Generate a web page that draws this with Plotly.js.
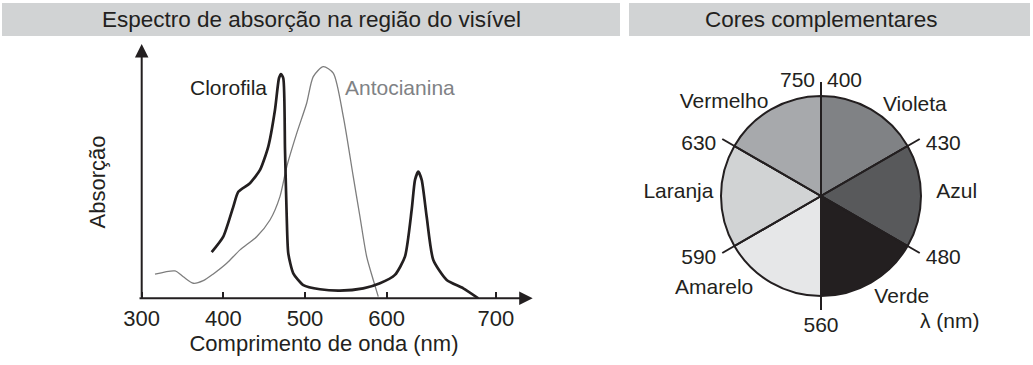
<!DOCTYPE html>
<html>
<head>
<meta charset="utf-8">
<script src="https://cdn.plot.ly/plotly-3.0.1.min.js"></script>
<style>html,body{margin:0;padding:0;background:#fff;}#chart{width:1033px;height:365px;}</style>
</head>
<body>
<div id="chart"></div>
<script>
// ---------- Data: absorption spectra (x in nm as drawn, y = relative absorption) ----------
var chlorophyllNm  = [385.7,399.9,412.2,418.3,432.6,444.9,455.0,463.2,468.1,470.6,473.4,475.5,477.6,479.5,485.6,497.9,518.3,542.8,571.3,591.8,610.1,622.4,630.6,634.7,638.7,642.9,649.0,657.1,673.5,693.8,712.2];
var chlorophyllAbs = [19.9,26.6,39.6,46.0,49.7,55.4,65.5,81.3,95.0,96.8,95.0,64.0,35.2,19.4,10.8,5.7,3.9,3.3,4.3,6.5,10.1,18.0,38.1,51.1,54.7,51.1,35.2,16.5,7.9,4.3,0];
var anthocyaninNm  = [316.3,340.8,350.9,363.2,375.4,387.7,404.1,420.4,440.8,457.1,469.3,477.6,489.8,502.0,510.1,522.4,534.6,546.9,559.1,567.3,575.5,583.6,589.7];
var anthocyaninAbs = [10.4,11.8,9.3,6.5,7.6,10.5,15.1,20.9,26.6,33.8,43.9,56.8,71.2,84.2,95.7,100,97.2,78.4,52.5,35.2,18.0,7.9,0.7];

// x tick labels and the positions where the figure draws them
var xTickLabels = ['300','400','500','600','700'];
var xTickVals   = [300, 400, 500, 600, 733.8];

// ---------- Data: complementary colours wheel ----------
var colourNames    = ['Violeta','Azul','Verde','Amarelo','Laranja','Vermelho'];
var sliceShares    = [1,1,1,1,1,1];
var sliceColours   = ['#808285','#58595b','#231f20','#e6e7e8','#d1d3d4','#a7a9ac'];
var boundaryLabels = ['400','430','480','560','590','630','750'];

// ---------- Geometry / style (not data) ----------
var INK = '#231f20';
var FONT = 'Liberation Sans, Arial, sans-serif';
var W = 1033, H = 365;
function px(x){return x/W;}
function py(y){return 1 - y/H;}

var nSlices = sliceShares.length;
var total = sliceShares.reduce(function(a,b){return a+b;},0);
var sliceTheta = [], sliceWidth = [], boundTheta = [];
var acc = 0;
for (var i=0;i<nSlices;i++){
  var w = sliceShares[i]/total*360;
  boundTheta.push(acc);
  sliceTheta.push(acc + w/2);
  sliceWidth.push(w);
  acc += w;
}
boundTheta.push(360);

var PXR = 100;          // pixels per radial unit
var lineR = 1.14;       // boundary lines run a little past the rim
var boundLineR = [], boundLineT = [];
for (var j=0;j<nSlices/2;j++){
  boundLineR.push(lineR, 0, lineR, null);
  boundLineT.push(boundTheta[j], boundTheta[j], boundTheta[j]+180, null);
}
// label anchors: the end of each boundary line, nudged down a few px for the side labels
var boundShiftPx = [0,6,6,0,6,6,0];
var boundTextPos = ['middle right','middle right','middle right','bottom center','middle left','middle left','middle left'];
var boundLabR = [], boundLabT = [];
boundTheta.forEach(function(t,k){
  var a = t*Math.PI/180;
  var x = lineR*PXR*Math.sin(a), y = -lineR*PXR*Math.cos(a) + boundShiftPx[k];
  boundLabR.push(Math.sqrt(x*x+y*y)/PXR);
  boundLabT.push(Math.atan2(x,-y)*180/Math.PI);
});
var nameR     = [1.30, 1.357, 1.301, 1.416, 1.426, 1.346];
var nameTheta = [46.2, 88.7, 141.6, 229.0, 271.2, 313.9];

var traces = [
  {type:'scatter', x: anthocyaninNm, y: anthocyaninAbs, mode:'lines', xaxis:'x', yaxis:'y',
   line:{color:'#7d7d7d', width:1.3, shape:'spline', smoothing:0.7}, cliponaxis:false, hoverinfo:'skip'},
  {type:'scatter', x: chlorophyllNm, y: chlorophyllAbs, mode:'lines', xaxis:'x', yaxis:'y',
   line:{color:INK, width:2.7, shape:'spline', smoothing:0.6}, cliponaxis:false, hoverinfo:'skip'},
  {type:'barpolar', r: sliceShares.map(function(){return 1;}), theta: sliceTheta, width: sliceWidth,
   marker:{color: sliceColours, line:{color:INK, width:2}}, subplot:'polar', hoverinfo:'skip'},
  {type:'scatterpolar', r: boundLineR, theta: boundLineT, mode:'lines', subplot:'polar',
   line:{color:INK, width:2}, connectgaps:false, hoverinfo:'skip'},
  {type:'scatterpolar', r: boundLabR, theta: boundLabT,
   mode:'markers+text', marker:{size:8, color:'rgba(0,0,0,0)'},
   text: boundaryLabels, textposition: boundTextPos, subplot:'polar', cliponaxis:false,
   textfont:{family:FONT, size:21, color:INK}, hoverinfo:'skip'},
  {type:'scatterpolar', r: nameR, theta: nameTheta,
   mode:'text', text: colourNames, textposition:'middle center', subplot:'polar', cliponaxis:false,
   textfont:{family:FONT, size:21, color:INK}, hoverinfo:'skip'}
];

var layout = {
  width: W, height: H,
  margin:{l:0,r:0,t:0,b:0},
  paper_bgcolor:'#ffffff', plot_bgcolor:'rgba(0,0,0,0)',
  showlegend:false,
  font:{family:FONT, color:INK},
  xaxis:{
    domain:[px(115), px(533)], range:[267.3, 779.2], anchor:'y',
    showgrid:false, zeroline:false, showline:false,
    tickmode:'array', tickvals: xTickVals, ticktext: xTickLabels,
    ticks:'inside', ticklen:6, tickwidth:2, tickcolor:INK, ticklabelstandoff:5,
    tickfont:{family:FONT, size:22, color:INK},
    title:{text:'Comprimento de onda (nm)', font:{family:FONT, size:22, color:INK}, standoff:4}
  },
  xaxis2:{
    overlaying:'x', matches:'x', anchor:'y', side:'bottom',
    showgrid:false, zeroline:false, showline:false, showticklabels:false,
    tickmode:'array', tickvals: xTickVals,
    ticks:'outside', ticklen:6, tickwidth:2, tickcolor:INK
  },
  yaxis:{
    domain:[py(298.3), py(65.5)], range:[0, 100.5], anchor:'x',
    showgrid:false, zeroline:false, showline:false, showticklabels:false, ticks:'',
    title:{text:'Absorção', font:{family:FONT, size:22, color:INK}, standoff:2}
  },
  polar:{
    domain:{x:[px(821-145), px(821+145)], y:[py(196+145), py(196-145)]},
    bgcolor:'rgba(0,0,0,0)',
    radialaxis:{visible:false, range:[0,1.45]},
    angularaxis:{visible:false, rotation:90, direction:'clockwise'}
  },
  shapes:[
    {type:'rect', xref:'paper', yref:'paper', x0:px(2), x1:px(620), y0:py(36), y1:py(3), fillcolor:'#d1d3d4', line:{width:0}, layer:'below'},
    {type:'rect', xref:'paper', yref:'paper', x0:px(629), x1:px(1030), y0:py(36), y1:py(3), fillcolor:'#d1d3d4', line:{width:0}, layer:'below'}
  ],
  annotations:[
    {xref:'paper', yref:'paper', x:px(311), y:py(19.5), text:'Espectro de absorção na região do visível', showarrow:false,
     xanchor:'center', yanchor:'middle', font:{family:FONT, size:22.5, color:INK}},
    {xref:'paper', yref:'paper', x:px(821), y:py(19.5), text:'Cores complementares', showarrow:false,
     xanchor:'center', yanchor:'middle', font:{family:FONT, size:22.5, color:INK}},
    // axes drawn as arrows in data coordinates
    {xref:'x', yref:'y', axref:'x', ayref:'y', x:778.8, y:0, ax:295.5, ay:0, text:'', showarrow:true,
     arrowhead:2, arrowsize:1.35, arrowwidth:2, arrowcolor:INK, standoff:0, startstandoff:0},
    {xref:'x', yref:'y', axref:'x', ayref:'y', x:300, y:109.8, ax:300, ay:0, text:'', showarrow:true,
     arrowhead:2, arrowsize:1.35, arrowwidth:2, arrowcolor:INK, standoff:0, startstandoff:0},
    // curve labels
    {xref:'x', yref:'y', x:405.7, y:90.8, text:'Clorofila', showarrow:false, xanchor:'center', yanchor:'middle',
     font:{family:FONT, size:21, color:INK}},
    {xref:'x', yref:'y', x:616.9, y:90.8, text:'Antocianina', showarrow:false, xanchor:'center', yanchor:'middle',
     font:{family:FONT, size:21, color:'#808285'}},
    // unit label of the colour wheel
    {xref:'paper', yref:'paper', x:px(950), y:py(320), text:'λ (nm)', showarrow:false, xanchor:'center', yanchor:'middle',
     font:{family:FONT, size:21, color:INK}}
  ]
};

Plotly.newPlot('chart', traces, layout, {displayModeBar:false, staticPlot:true});
</script>
</body>
</html>
